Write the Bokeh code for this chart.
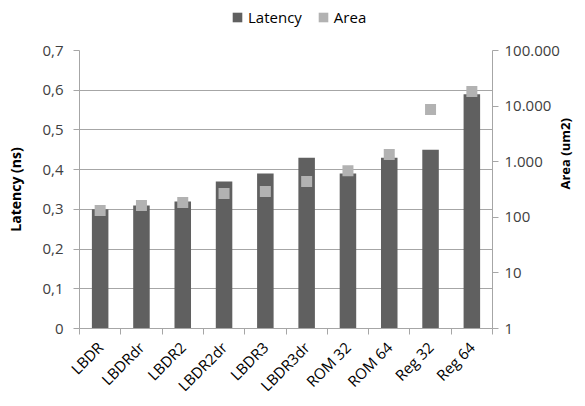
import numpy as np
from bokeh.plotting import figure
from bokeh.layouts import column
from bokeh.models import (Range1d, LogScale, LogAxis, LinearAxis, FixedTicker,
                          CustomJSTickFormatter, Legend, LegendItem, ColumnDataSource)
from bokeh.embed import file_html
from bokeh.resources import INLINE

categories = ["LBDR", "LBDRdr", "LBDR2", "LBDR2dr", "LBDR3", "LBDR3dr",
              "ROM 32", "ROM 64", "Reg 32", "Reg 64"]
latency = [0.30, 0.31, 0.32, 0.37, 0.39, 0.43, 0.39, 0.43, 0.45, 0.59]
area = [133, 163, 184, 268, 290, 440, 690, 1350, 8700, 18300]
latency_ticks = [0, 0.1, 0.2, 0.3, 0.4, 0.5, 0.6, 0.7]
area_ticks = [1, 10, 100, 1000, 10000, 100000]
series_names = ["Latency", "Area"]

FONT = "Open Sans"
TXT = "#404040"
BAR = "#606060"
MARK = "#B2B2B2"
GRID = "#A6A6A6"

xc = np.arange(len(categories)) + 0.5
src = ColumnDataSource(dict(x=xc, lat=latency, area=area))

# ---- legend strip ----
lf = figure(width=585, height=40, output_backend="svg", toolbar_location=None,
            x_range=Range1d(0, 1), y_range=Range1d(0, 1),
            min_border=0, outline_line_color=None,
            x_axis_location=None, y_axis_location=None)
lf.xgrid.visible = False
lf.ygrid.visible = False
dummy = ColumnDataSource(dict(x=[0], top=[0]))
lr1 = lf.vbar(x="x", top="top", width=0.1, source=dummy, fill_color=BAR, line_color=None)
lr2 = lf.vbar(x="x", top="top", width=0.1, source=dummy, fill_color=MARK, line_color=None)
legend = Legend(items=[LegendItem(label=series_names[0], renderers=[lr1]),
                       LegendItem(label=series_names[1], renderers=[lr2])],
                orientation="horizontal", location=(152, 13),
                border_line_color=None, background_fill_alpha=0,
                label_text_font=FONT, label_text_font_size="15px",
                label_text_color="#000000", glyph_width=12, glyph_height=12,
                spacing=15, padding=2, margin=0, label_standoff=5)
lf.add_layout(legend, "center")

# ---- main chart ----
p = figure(width=585, height=366, output_backend="svg", toolbar_location=None,
           x_range=Range1d(0, len(categories)), y_range=Range1d(0, 0.7),
           min_border_left=79, min_border_right=91, min_border_top=10,
           min_border_bottom=78, outline_line_color=None, x_axis_location=None,
           y_axis_location=None)
p.extra_y_ranges = {"area": Range1d(1, 100000)}
p.extra_y_scales = {"area": LogScale()}

p.vbar(x="x", top="lat", width=0.4, source=src, fill_color=BAR, line_color=None)
p.scatter(x="x", y="area", source=src, marker="square", size=11,
          fill_color=MARK, line_color=None, y_range_name="area")

# x axis
xax = LinearAxis(ticker=FixedTicker(ticks=list(xc), minor_ticks=list(range(len(categories) + 1))))
xax.major_label_overrides = {float(v): c for v, c in zip(xc, categories)}
xax.major_tick_out = 0
xax.major_tick_in = 0
xax.minor_tick_out = 6
xax.minor_tick_in = 0
xax.minor_tick_line_color = GRID
xax.axis_line_color = GRID
xax.major_label_orientation = np.pi / 4
xax.major_label_text_font = FONT
xax.major_label_text_font_size = "15px"
xax.major_label_text_color = "#000000"
xax.major_label_standoff = 10
p.add_layout(xax, "below")

# left axis
yax = LinearAxis(ticker=FixedTicker(ticks=latency_ticks),
                 formatter=CustomJSTickFormatter(code="return tick == 0 ? '0' : tick.toFixed(1).replace('.', ',');"))
yax.axis_label = "Latency (ns)"
yax.axis_label_text_font = FONT
yax.axis_label_text_font_style = "bold"
yax.axis_label_text_font_size = "14px"
yax.axis_label_text_color = "#000000"
yax.axis_label_standoff = 14
yax.major_label_text_font = FONT
yax.major_label_text_font_size = "15px"
yax.major_label_text_color = TXT
yax.major_label_standoff = 10
yax.major_tick_out = 6
yax.major_tick_in = 0
yax.minor_tick_out = 0
yax.minor_tick_in = 0
yax.major_tick_line_color = GRID
yax.axis_line_color = GRID
p.add_layout(yax, "left")

# right axis
rax = LogAxis(y_range_name="area", ticker=FixedTicker(ticks=area_ticks),
              formatter=CustomJSTickFormatter(code="return Math.round(tick).toString().replace(/\\B(?=(\\d{3})+(?!\\d))/g, '.');"))
rax.axis_label = "Area (um2)"
rax.axis_label_orientation = np.pi / 2
rax.axis_label_text_font = FONT
rax.axis_label_text_font_style = "bold"
rax.axis_label_text_font_size = "13px"
rax.axis_label_text_color = "#000000"
rax.axis_label_standoff = 2
rax.major_label_text_font = FONT
rax.major_label_text_font_size = "15px"
rax.major_label_text_color = TXT
rax.major_label_standoff = 6
rax.major_tick_out = 6
rax.major_tick_in = 0
rax.minor_tick_out = 0
rax.minor_tick_in = 0
rax.major_tick_line_color = GRID
rax.axis_line_color = GRID
p.add_layout(rax, "right")

p.xgrid.visible = False
p.ygrid.ticker = FixedTicker(ticks=latency_ticks)
p.ygrid.grid_line_color = GRID
p.ygrid.grid_line_width = 1

layout = column(lf, p, spacing=0)
open("out.html", "w").write(file_html(layout, INLINE))
